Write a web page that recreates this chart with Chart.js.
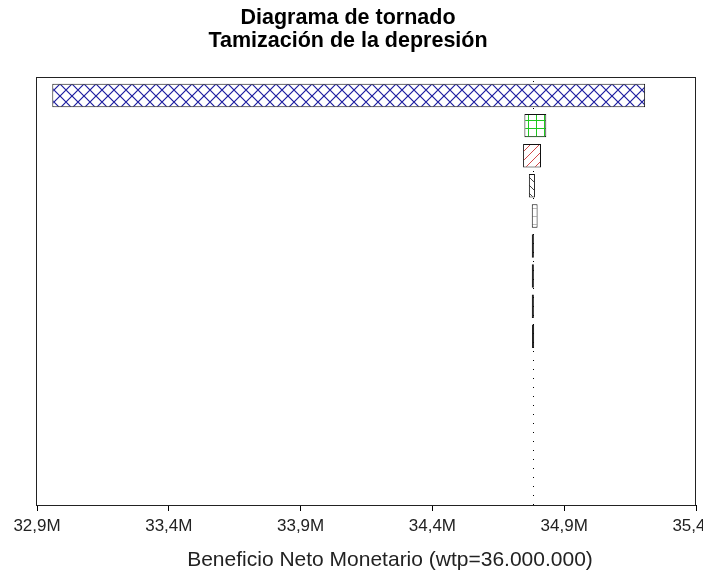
<!DOCTYPE html>
<html>
<head>
<meta charset="utf-8">
<script src="https://cdn.jsdelivr.net/npm/chart.js@4"></script>
<style>
  html, body { margin: 0; padding: 0; background: #fff; overflow: hidden; }
</style>
</head>
<body>
<canvas id="chart" width="703" height="574"></canvas>
<script>
// Values in millions
const variables = [
  'Variable 1', 'Variable 2', 'Variable 3', 'Variable 4', 'Variable 5',
  'Variable 6', 'Variable 7', 'Variable 8', 'Variable 9',
];
const lowValues = [32.958, 34.749, 34.744, 34.766, 34.777, 34.777, 34.777, 34.777, 34.778];
const highValues = [35.207, 34.832, 34.812, 34.789, 34.799, 34.785, 34.785, 34.785, 34.786];
const baseValue = 34.781;
const xTicks = [32.9, 33.4, 33.9, 34.4, 34.9, 35.4];
const axisTitle = 'Beneficio Neto Monetario (wtp=36.000.000)';

const FONT = "'Liberation Sans', Arial, sans-serif";
const canvas = document.getElementById('chart');
const ctx = canvas.getContext('2d');

function makePattern(size, color, width, draw) {
  const c = document.createElement('canvas');
  c.width = size;
  c.height = size;
  const g = c.getContext('2d');
  g.fillStyle = '#fff';
  g.fillRect(0, 0, size, size);
  g.strokeStyle = color;
  g.lineWidth = width;
  g.beginPath();
  draw(g, size);
  g.stroke();
  return ctx.createPattern(c, 'repeat');
}

const crossHatch = makePattern(12, '#1c1ca0', 1.2, (g, s) => {
  g.moveTo(0, 0); g.lineTo(s, s);
  g.moveTo(0, s); g.lineTo(s, 0);
});
const greenGrid = makePattern(8, '#1ec81e', 1, (g, s) => {
  g.moveTo(0.5, 0); g.lineTo(0.5, s);
  g.moveTo(0, 0.5); g.lineTo(s, 0.5);
});
const redHatch = makePattern(9, '#d04848', 1, (g, s) => {
  g.moveTo(0, s); g.lineTo(s, 0);
  g.moveTo(-1, 1); g.lineTo(1, -1);
  g.moveTo(s - 1, s + 1); g.lineTo(s + 1, s - 1);
});
const darkHatch = makePattern(8, '#444', 1, (g, s) => {
  g.moveTo(0, 0); g.lineTo(s, s);
});
const greyGrid = makePattern(8, '#bbb', 1, (g, s) => {
  g.moveTo(0, 0.5); g.lineTo(s, 0.5);
});
const fills = [crossHatch, greenGrid, redHatch, darkHatch, greyGrid, '#000', '#000', '#000', '#000'];

const frameAndBase = {
  id: 'frameAndBase',
  beforeDatasetsDraw(chart) {
    const { ctx, chartArea: a, scales } = chart;
    const x = Math.round(scales.x.getPixelForValue(baseValue)) + 0.5;
    ctx.save();
    ctx.strokeStyle = '#000';
    ctx.lineWidth = 1;
    ctx.setLineDash([1, 8]);
    ctx.beginPath();
    ctx.moveTo(x, a.top + 4);
    ctx.lineTo(x, a.bottom);
    ctx.stroke();
    ctx.restore();
  },
  afterDraw(chart) {
    const { ctx, chartArea: a } = chart;
    ctx.save();
    ctx.strokeStyle = '#222';
    ctx.lineWidth = 1;
    ctx.strokeRect(Math.round(a.left) - 0.5, Math.round(a.top) + 0.5,
      Math.round(a.right - a.left), Math.round(a.bottom - a.top));
    // x axis title, placed as in the original figure
    ctx.fillStyle = '#222';
    ctx.font = `21px ${FONT}`;
    ctx.textAlign = 'center';
    ctx.textBaseline = 'middle';
    ctx.fillText(axisTitle, 390, 560);
    ctx.restore();
  },
};

new Chart(canvas, {
  type: 'bar',
  data: {
    labels: variables,
    datasets: [{
      data: variables.map((name, i) => ({ y: i, x: [lowValues[i], highValues[i]] })),
      backgroundColor: fills,
      borderColor: '#111',
      borderWidth: 1,
      borderSkipped: false,
      categoryPercentage: 1,
      barPercentage: 0.78,
    }],
  },
  options: {
    indexAxis: 'y',
    responsive: false,
    animation: false,
    layout: { padding: { left: 0, right: 7, top: 0, bottom: 32.6 } },
    plugins: {
      legend: { display: false },
      tooltip: { enabled: false },
      title: {
        display: true,
        text: ['Diagrama de tornado', 'Tamización de la depresión'],
        color: '#000',
        font: { family: FONT, size: 21.5, weight: 'bold', lineHeight: 1.07 },
        padding: { top: 6.5, bottom: 24.5 },
      },
    },
    scales: {
      x: {
        type: 'linear',
        min: xTicks[0],
        max: xTicks[xTicks.length - 1],
        afterBuildTicks: (scale) => {
          scale.ticks = xTicks.map((v) => ({ value: v }));
        },
        afterFit: (scale) => {
          scale.paddingLeft = 0;
          scale.paddingRight = 0;
        },
        grid: { drawOnChartArea: false, drawTicks: true, tickLength: 6, color: '#000' },
        border: { display: true, color: '#000' },
        ticks: {
          color: '#222',
          padding: 5,
          maxRotation: 0,
          autoSkip: false,
          font: { family: FONT, size: 17 },
          callback: (v) => v.toFixed(1).replace('.', ',') + 'M',
        },
      },
      y: {
        type: 'linear',
        reverse: true,
        offset: false,
        min: -0.615,
        max: 13.605,
        afterBuildTicks: (scale) => {
          scale.ticks = variables.map((name, i) => ({ value: i }));
        },
        grid: { display: false },
        border: { display: false },
        ticks: { display: false },
        afterFit: (scale) => {
          scale.width = 37;
        },
      },
    },
  },
  plugins: [frameAndBase],
});
</script>
</body>
</html>
